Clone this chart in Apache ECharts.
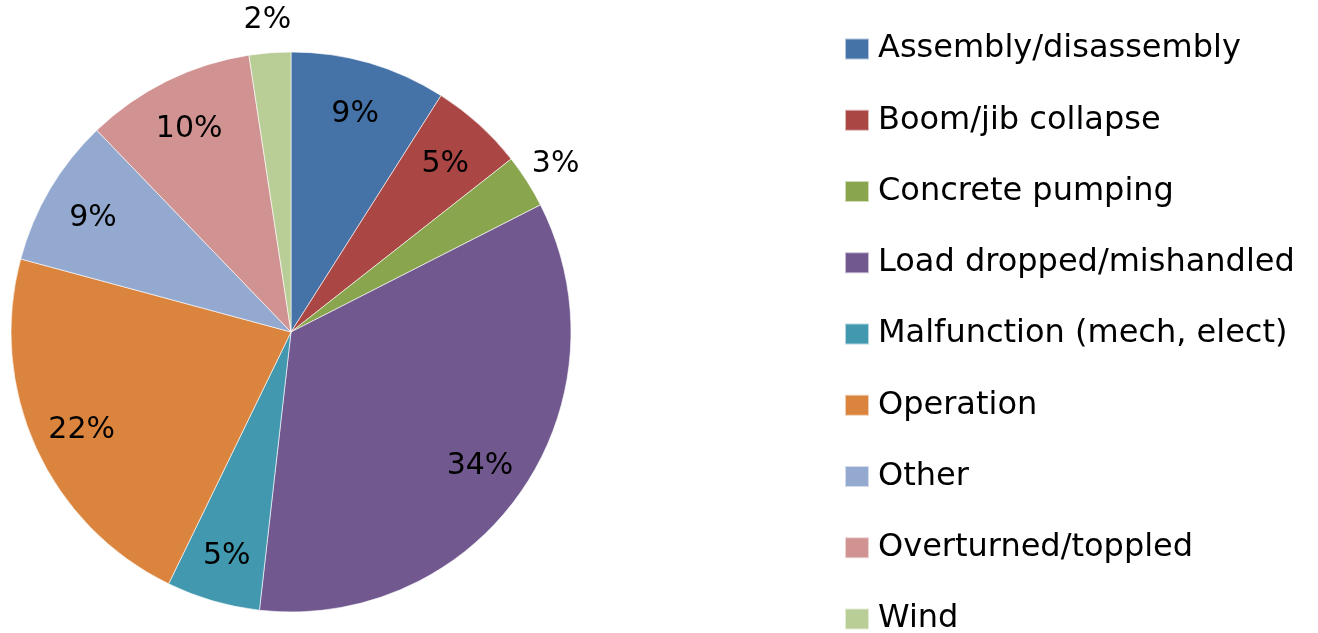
<!DOCTYPE html>
<html>
<head>
<meta charset="utf-8">
<script src="https://cdn.jsdelivr.net/npm/echarts@6/dist/echarts.min.js"></script>
<style>
html,body{margin:0;padding:0;background:#fff;}
#chart{width:1318px;height:633px;}
</style>
</head>
<body>
<div id="chart"></div>
<script>
// Data (percent shares)
const categories = ['Assembly/disassembly','Boom/jib collapse','Concrete pumping','Load dropped/mishandled','Malfunction (mech, elect)','Operation','Other','Overturned/toppled','Wind'];
const shares = [9.0, 5.4, 3.1, 34.3, 5.4, 22.0, 8.6, 9.8, 2.4];
const colors = ['#4572A7','#AA4643','#89A54E','#71588F','#4198AF','#DB843D','#93A9CF','#D19392','#B9CD96'];

const FONT = 'DejaVu Sans';
const CX = 291, CY = 332, R = 280;
const INNER_LABEL_R = 227, OUTER_LABEL_R = 311;
const SMALL = 4; // slices below this share get their label outside

const pieData = categories.map((n, i) => ({ name: n, value: shares[i], itemStyle: { color: colors[i] } }));
const fmt = p => Math.round(p.percent) + '%';

const chart = echarts.init(document.getElementById('chart'), null, { renderer: 'canvas' });
chart.setOption({
  animation: false,
  backgroundColor: '#fff',
  legend: {
    orient: 'vertical',
    left: 844,
    top: 33,
    height: 640,
    padding: 0,
    itemWidth: 24,
    itemHeight: 21,
    itemGap: 39.25,
    icon: 'rect',
    selectedMode: false,
    data: categories,
    textStyle: { fontFamily: FONT, fontSize: 32, lineHeight: 32, color: '#000', padding: [0, 0, 0, 4] }
  },
  series: [
    {
      type: 'pie',
      center: [CX, CY],
      radius: [0, R],
      startAngle: 90,
      clockwise: true,
      silent: true,
      label: { show: false },
      labelLine: { show: false },
      itemStyle: { borderColor: 'rgba(255,255,255,0.6)', borderWidth: 1 },
      data: pieData
    },
    {
      type: 'pie',
      center: [CX, CY],
      radius: [0, INNER_LABEL_R * 2],
      startAngle: 90,
      clockwise: true,
      silent: true,
      itemStyle: { color: 'transparent', borderWidth: 0 },
      labelLine: { show: false },
      data: categories.map((n, i) => ({
        name: n, value: shares[i],
        label: { show: shares[i] >= SMALL, position: 'inside', offset: [0, 3], formatter: fmt, color: '#000', fontFamily: FONT, fontSize: 30 }
      }))
    },
    {
      type: 'pie',
      center: [CX, CY],
      radius: [0, OUTER_LABEL_R * 2],
      startAngle: 90,
      clockwise: true,
      silent: true,
      itemStyle: { color: 'transparent', borderWidth: 0 },
      labelLine: { show: false },
      data: categories.map((n, i) => ({
        name: n, value: shares[i],
        label: { show: shares[i] < SMALL, position: 'inside', offset: [0, 1], formatter: fmt, color: '#000', fontFamily: FONT, fontSize: 30 }
      }))
    }
  ]
});
</script>
</body>
</html>
